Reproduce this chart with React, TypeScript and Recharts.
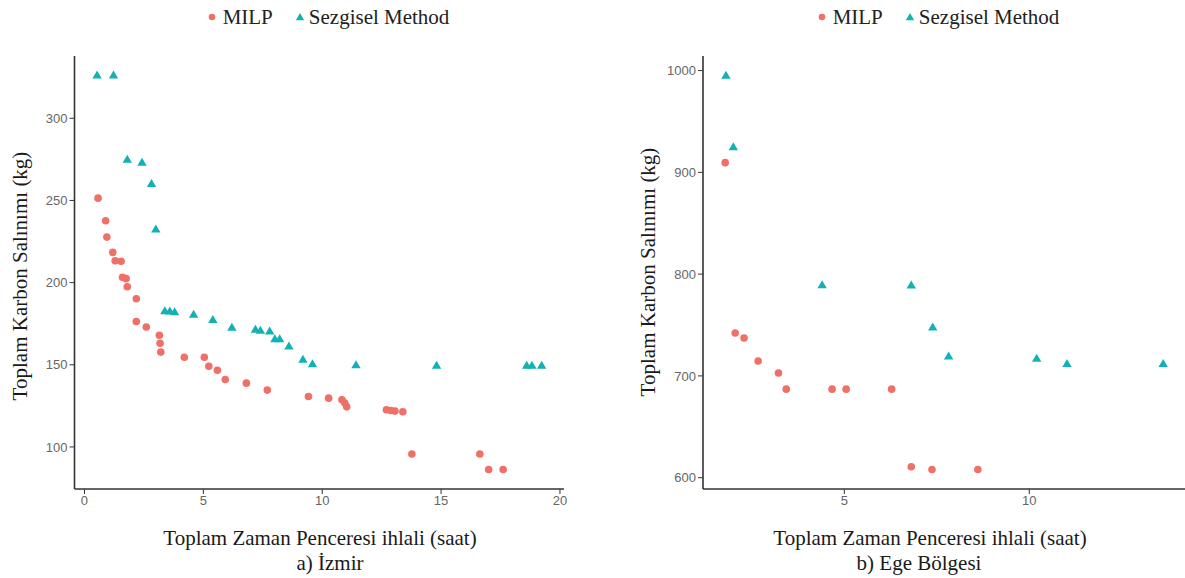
import React from 'react';
import { ScatterChart, Scatter, XAxis, YAxis } from 'recharts';

// a) İzmir
const izmirMilp = [
  { x: 0.57, y: 251.4 }, { x: 0.89, y: 237.6 }, { x: 0.94, y: 227.7 }, { x: 1.19, y: 218.4 },
  { x: 1.29, y: 213.3 }, { x: 1.54, y: 213.0 }, { x: 1.6, y: 203.2 }, { x: 1.75, y: 202.4 },
  { x: 1.8, y: 197.5 }, { x: 2.18, y: 190.2 }, { x: 2.18, y: 176.3 }, { x: 2.6, y: 173.0 },
  { x: 3.15, y: 168.0 }, { x: 3.18, y: 163.1 }, { x: 3.21, y: 157.7 }, { x: 4.2, y: 154.6 },
  { x: 5.04, y: 154.6 }, { x: 5.23, y: 149.1 }, { x: 5.59, y: 146.7 }, { x: 5.92, y: 141.0 },
  { x: 6.81, y: 138.8 }, { x: 7.69, y: 134.6 }, { x: 9.42, y: 130.7 }, { x: 10.27, y: 129.7 },
  { x: 10.83, y: 128.7 }, { x: 10.95, y: 126.7 }, { x: 11.03, y: 124.4 }, { x: 12.7, y: 122.6 },
  { x: 12.88, y: 122.2 }, { x: 13.06, y: 121.8 }, { x: 13.39, y: 121.4 }, { x: 13.77, y: 95.7 },
  { x: 16.63, y: 95.7 }, { x: 17.0, y: 86.3 }, { x: 17.61, y: 86.3 },
];

const izmirSezgisel = [
  { x: 0.53, y: 326.1 }, { x: 1.22, y: 326.1 }, { x: 1.8, y: 274.9 }, { x: 2.42, y: 273.1 },
  { x: 2.82, y: 260.1 }, { x: 3.0, y: 232.4 }, { x: 3.38, y: 182.7 }, { x: 3.59, y: 182.5 },
  { x: 3.79, y: 182.1 }, { x: 4.59, y: 180.5 }, { x: 5.4, y: 177.3 }, { x: 6.2, y: 172.6 },
  { x: 7.19, y: 171.4 }, { x: 7.4, y: 170.8 }, { x: 7.79, y: 170.4 }, { x: 8.01, y: 165.6 },
  { x: 8.21, y: 165.6 }, { x: 8.6, y: 161.3 }, { x: 9.19, y: 153.2 }, { x: 9.59, y: 150.5 },
  { x: 11.42, y: 149.9 }, { x: 14.81, y: 149.5 }, { x: 18.6, y: 149.5 }, { x: 18.82, y: 149.5 },
  { x: 19.23, y: 149.5 },
];

// b) Ege Bölgesi
const egeMilp = [
  { x: 1.78, y: 909.5 }, { x: 2.05, y: 742.2 }, { x: 2.29, y: 737.3 }, { x: 2.67, y: 714.7 },
  { x: 3.22, y: 702.9 }, { x: 3.43, y: 687 }, { x: 4.67, y: 687 }, { x: 5.05, y: 687 },
  { x: 6.28, y: 687 }, { x: 6.81, y: 610.8 }, { x: 7.37, y: 608.1 }, { x: 8.61, y: 608.1 },
];

const egeSezgisel = [
  { x: 1.8, y: 995 }, { x: 2.0, y: 924.8 }, { x: 4.4, y: 789.2 }, { x: 6.81, y: 789 },
  { x: 7.39, y: 747.7 }, { x: 7.82, y: 719.3 }, { x: 10.2, y: 717 }, { x: 11.02, y: 711.8 },
  { x: 13.62, y: 711.8 },
];

const izmirXTicks = [0, 5, 10, 15, 20];
const izmirYTicks = [100, 150, 200, 250, 300];
const egeXTicks = [5, 10];
const egeYTicks = [600, 700, 800, 900, 1000];

const seriesNames = ['MILP', 'Sezgisel Method'];

const RED = '#F07068';
const TEAL = '#12B2B4';
const SERIF = '"Liberation Serif", "Times New Roman", serif';
const SANS = '"Liberation Sans", Arial, sans-serif';

const Dot = (props: any) => <circle cx={props.cx} cy={props.cy} r={3.8} fill={RED} />;
const Tri = (props: any) => {
  const { cx, cy } = props;
  return <polygon points={`${cx},${cy - 4.8} ${cx - 4.7},${cy + 3.2} ${cx + 4.7},${cy + 3.2}`} fill={TEAL} />;
};

const tickStyle = { fill: '#666', fontSize: 13, fontFamily: SANS };
const axisLine = { stroke: '#333', strokeWidth: 1.6 };

function Panel(props: {
  left: number; width: number; marginLeft: number; marginRight: number;
  milp: any[]; sez: any[]; xDomain: number[]; yDomain: number[]; xTicks: number[]; yTicks: number[];
}) {
  return (
    <div style={{ position: 'absolute', left: props.left, top: 0 }}>
      <ScatterChart
        width={props.width}
        height={578}
        margin={{ top: 56, right: props.marginRight, bottom: 59, left: props.marginLeft }}
      >
        <XAxis
          type="number"
          dataKey="x"
          domain={props.xDomain}
          ticks={props.xTicks}
          allowDataOverflow
          height={30}
          tickSize={5}
          tick={tickStyle}
          axisLine={axisLine}
          tickLine={{ stroke: '#333' }}
        />
        <YAxis
          type="number"
          dataKey="y"
          domain={props.yDomain}
          ticks={props.yTicks}
          allowDataOverflow
          width={50}
          tickSize={5}
          tick={tickStyle}
          axisLine={axisLine}
          tickLine={{ stroke: '#333' }}
        />
        <Scatter name={seriesNames[0]} data={props.milp} shape={Dot} isAnimationActive={false} />
        <Scatter name={seriesNames[1]} data={props.sez} shape={Tri} isAnimationActive={false} />
      </ScatterChart>
    </div>
  );
}

function LegendRow({ center }: { center: number }) {
  return (
    <div
      style={{
        position: 'absolute', top: 4, left: center - 200, width: 400,
        display: 'flex', justifyContent: 'center', alignItems: 'center',
        fontFamily: SERIF, fontSize: 21, color: '#222', lineHeight: '26px',
      }}
    >
      <svg width={10} height={10} style={{ marginRight: 6 }}>
        <circle cx={5} cy={5} r={3.3} fill={RED} />
      </svg>
      <span style={{ marginRight: 22 }}>{seriesNames[0]}</span>
      <svg width={10} height={10} style={{ marginRight: 4 }}>
        <polygon points="5,1 0.8,8.2 9.2,8.2" fill={TEAL} />
      </svg>
      <span>{seriesNames[1]}</span>
    </div>
  );
}

function Text({ x, y, children, rotate, size = 21 }: any) {
  return (
    <div
      style={{
        position: 'absolute', left: x - 250, top: y - 15, width: 500, height: 30,
        textAlign: 'center', lineHeight: '30px', fontFamily: SERIF, fontSize: size,
        color: '#1a1a1a', whiteSpace: 'nowrap',
        transform: rotate ? 'rotate(-90deg)' : undefined,
      }}
    >
      {children}
    </div>
  );
}

export default function App() {
  return (
    <div style={{ position: 'absolute', left: 0, top: 0, width: 1185, height: 578, background: '#fff', overflow: 'hidden' }}>
      <Panel
        left={0} width={600} marginLeft={24.5} marginRight={36}
        milp={izmirMilp} sez={izmirSezgisel}
        xDomain={[-0.42, 20.17]} yDomain={[74.4, 337.9]}
        xTicks={izmirXTicks} yTicks={izmirYTicks}
      />
      <Panel
        left={600} width={585} marginLeft={53} marginRight={0}
        milp={egeMilp} sez={egeSezgisel}
        xDomain={[1.18, 14.21]} yDomain={[588.9, 1014.3]}
        xTicks={egeXTicks} yTicks={egeYTicks}
      />
      <LegendRow center={328} />
      <LegendRow center={938} />
      <Text x={20} y={276} rotate>Toplam Karbon Salınımı (kg)</Text>
      <Text x={648} y={272} rotate>Toplam Karbon Salınımı (kg)</Text>
      <Text x={320} y={538}>Toplam Zaman Penceresi ihlali (saat)</Text>
      <Text x={930} y={538}>Toplam Zaman Penceresi ihlali (saat)</Text>
      <Text x={330} y={563}>a) İzmir</Text>
      <Text x={919} y={563}>b) Ege Bölgesi</Text>
    </div>
  );
}
